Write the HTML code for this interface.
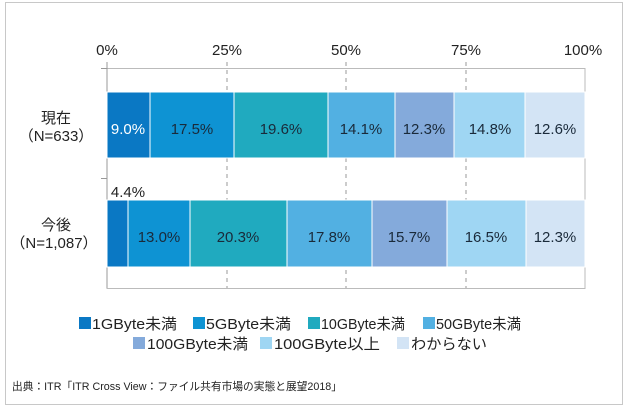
<!DOCTYPE html>
<html><head><meta charset="utf-8"><style>
body{margin:0;background:#fff}
svg text{font-family:"Liberation Sans","Noto Sans CJK JP",sans-serif}
</style></head><body>
<svg width="637" height="412" viewBox="0 0 637 412" xmlns="http://www.w3.org/2000/svg">
<rect x="5.5" y="2.5" width="617" height="402" fill="#fff" stroke="#c8c8c8"/>
<g font-size="15" fill="#222" text-anchor="middle">
<text x="107" y="55">0%</text><text x="227" y="55">25%</text><text x="346" y="55">50%</text><text x="466" y="55">75%</text><text x="583" y="55">100%</text>
</g>
<rect x="107" y="68.5" width="478" height="220" fill="none" stroke="#bbb"/>
<g stroke="#999" stroke-dasharray="4,4">
<line x1="227" y1="62" x2="227" y2="288"/><line x1="346" y1="62" x2="346" y2="288"/><line x1="466" y1="62" x2="466" y2="288"/>
</g>
<line x1="107" y1="62" x2="107" y2="288" stroke="#999"/>
<line x1="101" y1="68.5" x2="107" y2="68.5" stroke="#999"/>
<line x1="101" y1="178.5" x2="107" y2="178.5" stroke="#999"/>
<g stroke="#fff" stroke-width="1">
<rect x="107" y="92" width="43" height="66" fill="#0a78c4"/>
<rect x="150" y="92" width="84" height="66" fill="#0e93d3"/>
<rect x="234" y="92" width="94" height="66" fill="#20aabf"/>
<rect x="328" y="92" width="67" height="66" fill="#52b0e2"/>
<rect x="395" y="92" width="59" height="66" fill="#84aadb"/>
<rect x="454" y="92" width="71" height="66" fill="#9fd6f3"/>
<rect x="525" y="92" width="60" height="66" fill="#d3e4f5"/>
<rect x="107" y="200" width="21" height="67" fill="#0a78c4"/>
<rect x="128" y="200" width="62" height="67" fill="#0e93d3"/>
<rect x="190" y="200" width="97" height="67" fill="#20aabf"/>
<rect x="287" y="200" width="85" height="67" fill="#52b0e2"/>
<rect x="372" y="200" width="75" height="67" fill="#84aadb"/>
<rect x="447" y="200" width="79" height="67" fill="#9fd6f3"/>
<rect x="526" y="200" width="59" height="67" fill="#d3e4f5"/>
</g>
<g font-size="15" fill="#1a2a3a" text-anchor="middle">
<text x="128" y="134" fill="#fff">9.0%</text>
<text x="192" y="134">17.5%</text><text x="281" y="134">19.6%</text><text x="361" y="134">14.1%</text>
<text x="424" y="134">12.3%</text><text x="490" y="134">14.8%</text><text x="555" y="134">12.6%</text>
<text x="159" y="242">13.0%</text><text x="238" y="242">20.3%</text><text x="329" y="242">17.8%</text>
<text x="409" y="242">15.7%</text><text x="486" y="242">16.5%</text><text x="555" y="242">12.3%</text>
<text x="128" y="197" fill="#222">4.4%</text>
</g>
<g font-size="15" fill="#222" text-anchor="middle">
<text x="56" y="123">現在</text><text x="56" y="141">（N=633）</text>
<text x="56" y="230">今後</text><text x="54" y="248">（N=1,087）</text>
</g>
<g font-size="15" fill="#222">
<rect x="79" y="317" width="12" height="12" fill="#0a78c4"/><text x="92" y="329" textLength="85" lengthAdjust="spacingAndGlyphs">1GByte未満</text>
<rect x="193" y="317" width="12" height="12" fill="#0e93d3"/><text x="206" y="329" textLength="85" lengthAdjust="spacingAndGlyphs">5GByte未満</text>
<rect x="308" y="317" width="12" height="12" fill="#20aabf"/><text x="321" y="329" textLength="84" lengthAdjust="spacingAndGlyphs">10GByte未満</text>
<rect x="423" y="317" width="12" height="12" fill="#52b0e2"/><text x="436" y="329" textLength="85" lengthAdjust="spacingAndGlyphs">50GByte未満</text>
<rect x="133" y="337" width="12" height="12" fill="#84aadb"/><text x="147" y="349" textLength="101" lengthAdjust="spacingAndGlyphs">100GByte未満</text>
<rect x="260" y="337" width="12" height="12" fill="#9fd6f3"/><text x="274" y="349" textLength="106" lengthAdjust="spacingAndGlyphs">100GByte以上</text>
<rect x="397" y="337" width="12" height="12" fill="#d3e4f5"/><text x="411" y="349" textLength="76" lengthAdjust="spacingAndGlyphs">わからない</text>
</g>
<text x="12" y="390" font-size="11" fill="#222" textLength="330" lengthAdjust="spacingAndGlyphs">出典：ITR「ITR Cross View：ファイル共有市場の実態と展望2018」</text>
</svg>
</body></html>
